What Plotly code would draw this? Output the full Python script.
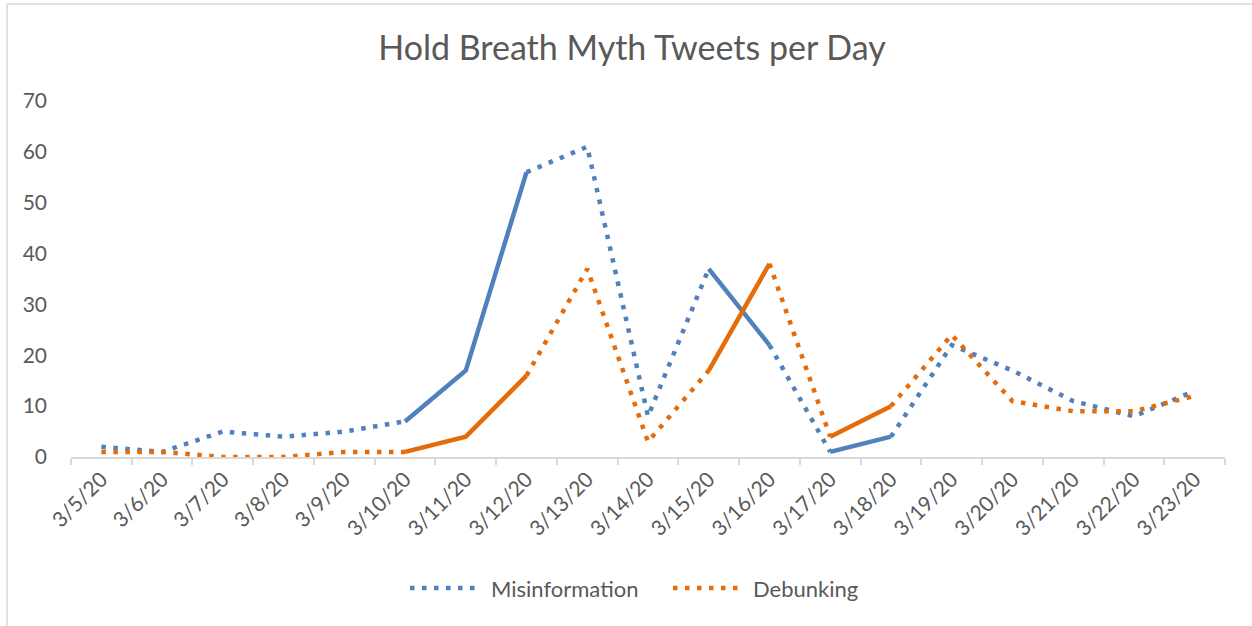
import plotly.graph_objects as go

# ---- data ----
dates = ["3/5/20", "3/6/20", "3/7/20", "3/8/20", "3/9/20", "3/10/20", "3/11/20",
         "3/12/20", "3/13/20", "3/14/20", "3/15/20", "3/16/20", "3/17/20",
         "3/18/20", "3/19/20", "3/20/20", "3/21/20", "3/22/20", "3/23/20"]
misinformation = [2, 1, 5, 4, 5, 7, 17, 56, 61, 8, 37, 22, 1, 4, 22, 17, 11, 8, 13]
debunking = [1, 1, 0, 0, 1, 1, 4, 16, 37, 3, 17, 38, 4, 10, 24, 11, 9, 9, 12]
# line style of the segment joining day i and day i+1
segment_styles = (["dot"] * 5 + ["solid", "solid"] + ["dot"] * 3 +
                  ["solid", "dot", "solid"] + ["dot"] * 5)
y_ticks = [0, 10, 20, 30, 40, 50, 60, 70]

BLUE = "#4F81BD"
ORANGE = "#E46C0A"
GREY_TXT = "#595959"
FONT = "Lato"

# ---- layout geometry (pixels) ----
W, H = 1252, 626
PL, PR, PT, PB = 71, 1225, 101, 457


def px(x):
    return (x - PL) / (PR - PL)


def py(y):
    return (PB - y) / (PB - PT)


def runs(styles):
    out = []
    start = 0
    for i in range(1, len(styles) + 1):
        if i == len(styles) or styles[i] != styles[start]:
            out.append((start, i, styles[start]))
            start = i
    return out


fig = go.Figure()
for values, color in [(misinformation, BLUE), (debunking, ORANGE)]:
    for s, e, style in runs(segment_styles):
        xs = dates[s:e + 1]
        ys = values[s:e + 1]
        if style == "dot":
            line = dict(color=color, width=4.5, dash="4.5px,7.5px")
        else:
            line = dict(color=color, width=4.5)
        fig.add_trace(go.Scatter(x=xs, y=ys, mode="lines", line=line,
                                 showlegend=False, hoverinfo="skip"))

shapes = [
    # chart border (top and left visible)
    dict(type="line", xref="paper", yref="paper", x0=px(7), x1=px(1300),
         y0=py(4), y1=py(4), line=dict(color="#D9D9D9", width=1.5)),
    dict(type="line", xref="paper", yref="paper", x0=px(7), x1=px(7),
         y0=py(4), y1=py(700), line=dict(color="#D9D9D9", width=1.5)),
    # legend samples
    dict(type="line", xref="paper", yref="paper", x0=px(410), x1=px(478),
         y0=py(588), y1=py(588),
         line=dict(color=BLUE, width=4.5, dash="4.5px,7.5px")),
    dict(type="line", xref="paper", yref="paper", x0=px(673), x1=px(741),
         y0=py(588), y1=py(588),
         line=dict(color=ORANGE, width=4.5, dash="4.5px,7.5px")),
]
annotations = [
    dict(text="Misinformation", xref="paper", yref="paper", x=px(489), y=py(588),
         xanchor="left", yanchor="middle", showarrow=False,
         font=dict(family=FONT, size=22, color=GREY_TXT)),
    dict(text="Debunking", xref="paper", yref="paper", x=px(751), y=py(588),
         xanchor="left", yanchor="middle", showarrow=False,
         font=dict(family=FONT, size=22, color=GREY_TXT)),
]

fig.update_layout(
    width=W, height=H,
    margin=dict(l=PL, r=W - PR, t=PT, b=H - PB, pad=0),
    paper_bgcolor="white", plot_bgcolor="white",
    title=dict(text="Hold Breath Myth Tweets per Day", x=632 / W, xanchor="center",
               y=1 - 48 / H, yanchor="middle", yref="container",
               font=dict(family=FONT, size=34, color=GREY_TXT)),
    font=dict(family=FONT, color=GREY_TXT),
    showlegend=False,
    shapes=shapes,
    annotations=annotations,
    xaxis=dict(type="category", categoryorder="array", categoryarray=dates,
               tickson="boundaries", ticks="outside", ticklen=6,
               tickcolor="#D9D9D9", tickwidth=1.5,
               showline=True, linecolor="#D9D9D9", linewidth=1.5,
               showgrid=False, tickangle=-45,
               tickfont=dict(family=FONT, size=21, color=GREY_TXT),
               range=[-0.5, len(dates) - 0.5]),
    yaxis=dict(range=[0, 70], tickvals=y_ticks, showgrid=False, zeroline=False,
               showline=False, ticks="", ticklabelstandoff=23,
               tickfont=dict(family=FONT, size=21, color=GREY_TXT)),
)

fig.write_html("out.html",
               config={"displayModeBar": False},
               post_script="document.body.style.margin='0';"
                           "document.body.style.overflow='hidden';")
